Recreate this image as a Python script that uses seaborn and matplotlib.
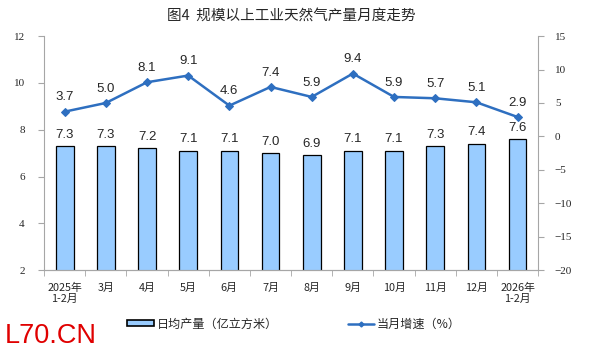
import seaborn as sns
import matplotlib.pyplot as plt
import numpy as np
from matplotlib.patches import Patch
from matplotlib.lines import Line2D

# data
months = ['2025年\n1-2月', '3月', '4月', '5月', '6月', '7月', '8月', '9月',
          '10月', '11月', '12月', '2026年\n1-2月']
daily_output = [7.3, 7.3, 7.2, 7.1, 7.1, 7.0, 6.9, 7.1, 7.1, 7.3, 7.4, 7.6]
growth = [3.7, 5.0, 8.1, 9.1, 4.6, 7.4, 5.9, 9.4, 5.9, 5.7, 5.1, 2.9]

sns.set_style('white')
plt.rcParams['font.family'] = ['Noto Sans CJK SC', 'DejaVu Sans']

fig, ax = plt.subplots(figsize=(6.04, 3.54), dpi=100)
fig.subplots_adjust(left=0.073, right=0.891, top=0.898, bottom=0.237)

bar_color = '#99CCFF'
line_color = '#2E6FC0'
axis_gray = '#A6A6A6'

sns.barplot(x=months, y=daily_output, color=bar_color, edgecolor='black',
            linewidth=0.9, width=0.43, saturation=1, ax=ax)
ax.set_ylim(2, 12)
ax.set_yticks(range(2, 13, 2))
ax.set_xlim(-0.5, len(months) - 0.5)

for i, v in enumerate(daily_output):
    ax.annotate(f'{v:.1f}', (i, v), xytext=(0, 4), textcoords='offset points',
                ha='center', va='bottom', fontsize=9.5, family='Liberation Sans')

ax2 = ax.twinx()
x = np.arange(len(months))
sns.lineplot(x=x, y=growth, color=line_color, linewidth=1.8, marker='D',
             markersize=4, markeredgecolor=line_color, ax=ax2)
ax2.set_ylim(-20, 15)
ax2.set_yticks(range(-20, 16, 5))

for i, v in enumerate(growth):
    ax2.annotate(f'{v:.1f}', (i, v), xytext=(0, 6), textcoords='offset points',
                 ha='center', va='bottom', fontsize=9.5, family='Liberation Sans')

for a in (ax, ax2):
    for side in ('left', 'right', 'bottom'):
        a.spines[side].set_color(axis_gray)
        a.spines[side].set_linewidth(0.8)
    a.spines['top'].set_visible(False)
    a.tick_params(axis='y', direction='out', length=4, color=axis_gray,
                  labelsize=8)
    for lab in a.get_yticklabels():
        lab.set_family('Liberation Serif')
ax2.spines['left'].set_visible(False)
ax.spines['right'].set_visible(False)
ax.tick_params(axis='y', left=True, pad=10)
ax2.tick_params(axis='y', right=True, pad=8)

# x ticks: labels at centres, tick marks between categories
ax.set_xticks(np.arange(len(months)))
ax.set_xticklabels(months, linespacing=1.1)
ax.tick_params(axis='x', which='major', bottom=False, labelsize=7.8, pad=6)
ax.set_xticks(np.arange(-0.5, len(months), 1), minor=True)
ax.tick_params(axis='x', which='minor', bottom=True, direction='out',
               length=4, color=axis_gray)
ax.set_xlim(-0.5, len(months) - 0.5)

ax.set_title('图4  规模以上工业天然气产量月度走势', fontsize=10.5, pad=12)

# legend
handles = [Patch(facecolor=bar_color, edgecolor='black', linewidth=1.2),
           Line2D([0], [0], color=line_color, linewidth=1.8, marker='D',
                  markersize=2.5)]
labels = ['日均产量（亿立方米）', '当月增速（%）']
fig.legend(handles, labels, loc='center', bbox_to_anchor=(0.487, 0.085),
           ncol=2, frameon=False, fontsize=8.7, columnspacing=5.8,
           handlelength=2.2, handleheight=0.45, handletextpad=0.2)

fig.text(0.008, 0.03, 'L70.CN', color='#E00000', fontsize=19.5,
         family='Liberation Sans')

plt.savefig('out.png', dpi=100)
